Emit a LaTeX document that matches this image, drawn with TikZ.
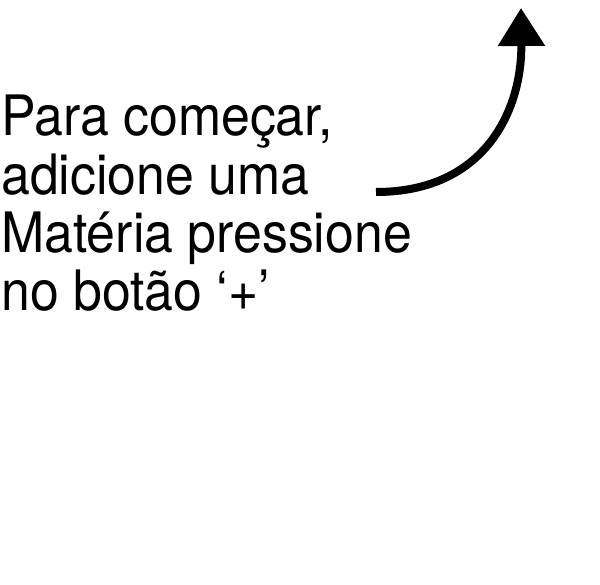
\documentclass[tikz,border=0pt]{standalone}
\usepackage{fontspec}
\setmainfont{TeX Gyre Heros}[FakeStretch=0.93]
\usetikzlibrary{arrows.meta}
\begin{document}
\begin{tikzpicture}[x=0.75pt,y=-0.75pt,
  txt/.style={anchor=base west,inner sep=0pt,font=\fontsize{41.8pt}{44pt}\selectfont},
  arr/.style={line width=6pt,-{Triangle[length=28.5pt,width=34pt]}}]
\useasboundingbox (0,0) rectangle (600,585);
\node[txt] (l1) at (1,135) {Para começar,};
\node[txt] (l2) at (1,194) {adicione uma};
\node[txt] (l3) at (1,252) {Matéria pressione};
\node[txt] (l4) at (1,310) {no botão ‘+’};
\coordinate (start) at (376,192);
\coordinate (tip) at (521,8);
\draw[arr] (start) .. controls (485,192) and (522,110) .. (tip);
\end{tikzpicture}
\end{document}
